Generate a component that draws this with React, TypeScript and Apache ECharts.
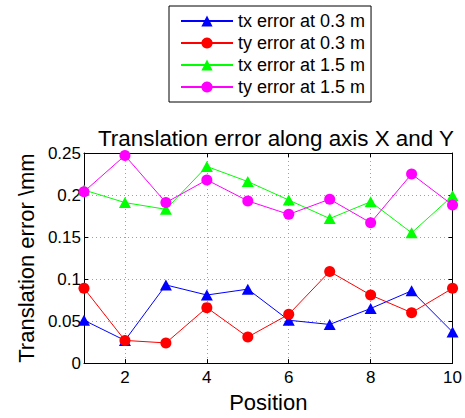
import React, { useEffect, useRef } from 'react';
import * as echarts from 'echarts';

const positions = [1, 2, 3, 4, 5, 6, 7, 8, 9, 10];
const txNear = [0.051, 0.027, 0.093, 0.081, 0.088, 0.051, 0.046, 0.065, 0.086, 0.037];
const tyNear = [0.089, 0.027, 0.024, 0.066, 0.031, 0.058, 0.109, 0.081, 0.060, 0.089];
const txFar = [0.206, 0.191, 0.183, 0.234, 0.216, 0.194, 0.172, 0.192, 0.155, 0.199];
const tyFar = [0.204, 0.247, 0.191, 0.218, 0.193, 0.177, 0.195, 0.167, 0.225, 0.188];
const seriesNames = ['tx error at 0.3 m', 'ty error at 0.3 m', 'tx error at 1.5 m', 'ty error at 1.5 m'];
const xTicks = [2, 4, 6, 8, 10];

const FONT = '"Liberation Sans", Arial, Helvetica, sans-serif';

export default function App() {
  const ref = useRef<HTMLDivElement>(null);
  useEffect(() => {
    const chart = echarts.init(ref.current!, null, { renderer: 'svg' });
    const pair = (ys: number[]) => positions.map((x, i) => [x, ys[i]]);
    const mk = (name: string, ys: number[], color: string, symbol: string, size: any) => ({
      name,
      type: 'line',
      data: pair(ys),
      symbol,
      symbolSize: size,
      clip: false,
      lineStyle: { color, width: 1 },
      itemStyle: { color },
      emphasis: { disabled: true },
    });
    const gridLine = { show: true, lineStyle: { color: '#a0a0a0', width: 1, type: [1, 3] } };
    chart.setOption({
      animation: false,
      backgroundColor: '#ffffff',
      textStyle: { fontFamily: FONT, color: '#000' },
      title: {
        text: 'Translation error along axis X and Y',
        left: 271,
        top: 122,
        textAlign: 'center',
        textStyle: { fontFamily: FONT, fontSize: 22.4, fontWeight: 'normal', color: '#000' },
      },
      legend: {
        data: seriesNames,
        orient: 'vertical',
        left: 169,
        top: 6,
        padding: [6, 6, 6, 11],
        itemGap: 4,
        itemWidth: 52,
        itemHeight: 14,
        backgroundColor: '#fff',
        borderColor: '#000',
        borderWidth: 1,
        textStyle: { fontFamily: FONT, fontSize: 18, color: '#000' },
      },
      grid: { left: 84, right: 12, top: 153, bottom: 49, show: false },
      xAxis: [
        {
          type: 'value',
          min: 1,
          max: 10,
          position: 'bottom',
          name: 'Position',
          nameLocation: 'middle',
          nameGap: 24,
          nameTextStyle: { fontFamily: FONT, fontSize: 22, color: '#000' },
          axisLine: { show: true, lineStyle: { color: '#000', width: 1 } },
          axisTick: { show: true, inside: true, length: 4, customValues: xTicks, lineStyle: { color: '#000' } },
          axisLabel: { customValues: xTicks, fontFamily: FONT, fontSize: 17, color: '#000', margin: 6 },
          splitLine: gridLine,
        },
        {
          type: 'value',
          min: 1,
          max: 10,
          position: 'top',
          axisLine: { show: true, onZero: false, lineStyle: { color: '#000', width: 1 } },
          axisTick: { show: true, inside: true, length: 4, customValues: xTicks, lineStyle: { color: '#000' } },
          axisLabel: { show: false },
          splitLine: { show: false },
        },
      ],
      yAxis: [
        {
          type: 'value',
          min: 0,
          max: 0.25,
          interval: 0.05,
          position: 'left',
          name: 'Translation error \\mm',
          nameLocation: 'middle',
          nameGap: 45,
          nameRotate: 90,
          nameTextStyle: { fontFamily: FONT, fontSize: 22, color: '#000' },
          axisLine: { show: true, onZero: false, lineStyle: { color: '#000', width: 1 } },
          axisTick: { show: true, inside: true, length: 4, lineStyle: { color: '#000' } },
          axisLabel: { fontFamily: FONT, fontSize: 17, color: '#000', margin: 3 },
          splitLine: gridLine,
        },
        {
          type: 'value',
          min: 0,
          max: 0.25,
          interval: 0.05,
          position: 'right',
          axisLine: { show: true, onZero: false, lineStyle: { color: '#000', width: 1 } },
          axisTick: { show: true, inside: true, length: 4, lineStyle: { color: '#000' } },
          axisLabel: { show: false },
          splitLine: { show: false },
        },
      ],
      series: [
        mk(seriesNames[0], txNear, '#0000ff', 'triangle', [12, 11]),
        mk(seriesNames[1], tyNear, '#ff0000', 'circle', 11),
        mk(seriesNames[2], txFar, '#00ff00', 'triangle', [12, 11]),
        mk(seriesNames[3], tyFar, '#ff00ff', 'circle', 11),
      ],
    });
    return () => chart.dispose();
  }, []);
  return (
    <div
      ref={ref}
      style={{ width: 465, height: 418, position: 'absolute', left: 0, top: 0, background: '#fff' }}
    />
  );
}
